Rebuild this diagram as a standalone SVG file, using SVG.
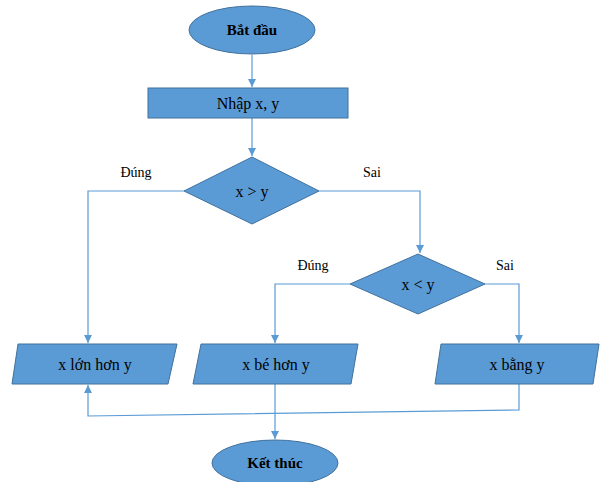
<svg xmlns="http://www.w3.org/2000/svg" width="601" height="482" viewBox="0 0 601 482">
<defs>
<marker id="arr" markerWidth="10" markerHeight="10" refX="8" refY="5" orient="auto" markerUnits="userSpaceOnUse">
<path d="M0,1 L8,5 L0,9 Z" fill="#5B9BD5"/>
</marker>
<style>
.shape{fill:#5B9BD5;stroke:#41719C;stroke-width:1}
.line{fill:none;stroke:#5B9BD5;stroke-width:1.2}
.t{font-family:"Liberation Serif","Times New Roman",serif;fill:#000;text-anchor:middle}
.b{font-weight:bold;font-size:15px}
.n{font-size:16px}
.lbl{font-family:"Liberation Serif","Times New Roman",serif;font-size:14px;fill:#000;text-anchor:middle}
</style>
</defs>
<rect width="601" height="482" fill="#fff"/>
<g id="connectors">
<line class="line" x1="252" y1="55" x2="252" y2="87" marker-end="url(#arr)"/>
<line class="line" x1="252" y1="118" x2="252" y2="156" marker-end="url(#arr)"/>
<polyline class="line" points="184,191 88,191 88,343" marker-end="url(#arr)"/>
<polyline class="line" points="319,191 420,191 420,253" marker-end="url(#arr)"/>
<polyline class="line" points="350,284 275,284 275,343" marker-end="url(#arr)"/>
<polyline class="line" points="485,284 519,284 519,343" marker-end="url(#arr)"/>
<polyline class="line" points="519,384 519,410 88,416 88,385" marker-end="url(#arr)"/>
<line class="line" x1="275" y1="384" x2="275" y2="439" marker-end="url(#arr)"/>
<text class="lbl" x="136" y="177">Đúng</text>
<text class="lbl" x="372" y="177">Sai</text>
<text class="lbl" x="313" y="270">Đúng</text>
<text class="lbl" x="505" y="270">Sai</text>
</g>
<g id="start">
<ellipse class="shape" cx="252" cy="30" rx="63" ry="24"/>
<text class="t b" x="252" y="35">Bắt đầu</text>
</g>
<g id="input">
<rect class="shape" x="148" y="88" width="200" height="30"/>
<text class="t n" x="248" y="109">Nhập x, y</text>
</g>
<g id="cond1">
<polygon class="shape" points="252,157 319,191 252,224 184,191"/>
<text class="t n" x="252" y="197">x &gt; y</text>
</g>
<g id="cond2">
<polygon class="shape" points="418,254 485,284 418,314 350,284"/>
<text class="t n" x="418" y="290">x &lt; y</text>
</g>
<g id="greater">
<polygon class="shape" points="18,344 177,344 168,384 12,384"/>
<text class="t n" x="95" y="370">x lớn hơn y</text>
</g>
<g id="less">
<polygon class="shape" points="201,344 358,344 351,384 193,384"/>
<text class="t n" x="276" y="370">x bé hơn y</text>
</g>
<g id="equal">
<polygon class="shape" points="441,344 599,344 593,384 435,384"/>
<text class="t n" x="517" y="370">x bằng y</text>
</g>
<g id="end">
<ellipse class="shape" cx="275" cy="463" rx="63" ry="23"/>
<text class="t b" x="275" y="468">Kết thúc</text>
</g>
</svg>
